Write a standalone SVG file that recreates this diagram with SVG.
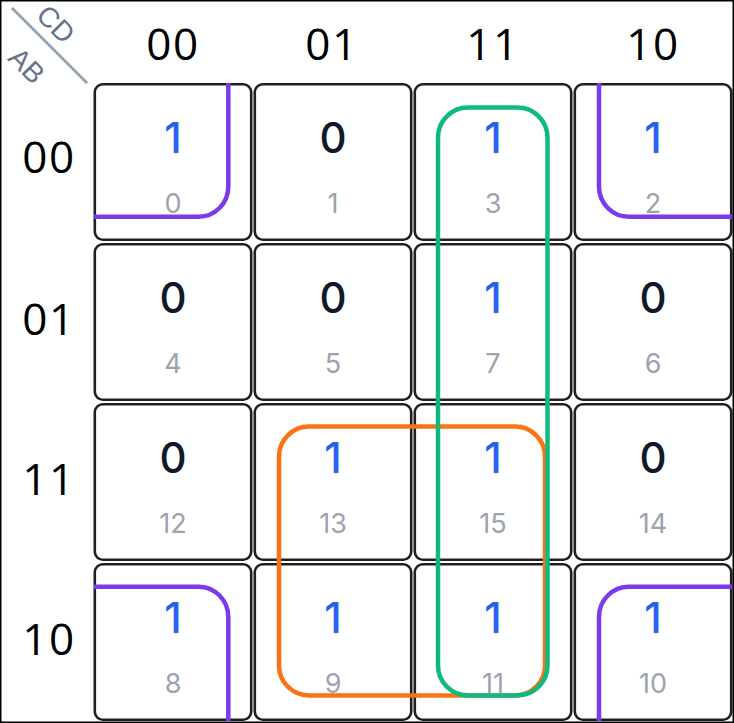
<svg xmlns="http://www.w3.org/2000/svg" width="734" height="723" viewBox="0 0 734 723">
<style>
.cell{fill:#fff;stroke:#231f20;stroke-width:2.6}
.hdr{font-family:"Open Sans","Noto Sans",sans-serif;font-weight:400;font-size:44px;fill:#000;text-anchor:middle;letter-spacing:1.5px}
.v1{font-family:Inter,"Noto Sans",sans-serif;font-weight:500;font-size:42px;fill:#2563eb;text-anchor:middle}
.v0{font-family:Inter,"Noto Sans",sans-serif;font-weight:500;font-size:42px;fill:#111827;text-anchor:middle}
.idx{font-family:Inter,"Noto Sans",sans-serif;font-size:27px;fill:#9ca3af;text-anchor:middle}
.ax{font-family:"Liberation Sans",Arial,sans-serif;font-size:28px;fill:#64748b;text-anchor:middle}
.loop{fill:none;stroke-width:4.5;stroke-linecap:butt}
</style>
<rect x="0" y="0" width="734" height="723" fill="#fff"/>
<g id="corner">
<line x1="12" y1="8" x2="87" y2="83" stroke="#94a3b8" stroke-width="3"/>
<text class="ax" transform="translate(49,31) rotate(45)">CD</text>
<text class="ax" transform="translate(20,72.5) rotate(45)">AB</text>
</g>
<g id="col-headers">
<text class="hdr" x="173" y="60">00</text>
<text class="hdr" x="332" y="60">01</text>
<text class="hdr" x="493" y="60">11</text>
<text class="hdr" x="653" y="60">10</text>
</g>
<g id="row-headers">
<text class="hdr" x="49" y="173">00</text>
<text class="hdr" x="49" y="335">01</text>
<text class="hdr" x="49" y="495">11</text>
<text class="hdr" x="49" y="655">10</text>
</g>
<g id="cell-0"><rect class="cell" x="94.8" y="84.3" width="156.4" height="155.4" rx="8"/><text class="v1" x="173" y="153">1</text><text class="idx" x="173" y="213">0</text></g>
<g id="cell-1"><rect class="cell" x="254.8" y="84.3" width="156.4" height="155.4" rx="8"/><text class="v0" x="333" y="153">0</text><text class="idx" x="333" y="213">1</text></g>
<g id="cell-3"><rect class="cell" x="414.8" y="84.3" width="156.4" height="155.4" rx="8"/><text class="v1" x="493" y="153">1</text><text class="idx" x="493" y="213">3</text></g>
<g id="cell-2"><rect class="cell" x="574.8" y="84.3" width="156.4" height="155.4" rx="8"/><text class="v1" x="653" y="153">1</text><text class="idx" x="653" y="213">2</text></g>
<g id="cell-4"><rect class="cell" x="94.8" y="244.3" width="156.4" height="155.4" rx="8"/><text class="v0" x="173" y="313">0</text><text class="idx" x="173" y="373">4</text></g>
<g id="cell-5"><rect class="cell" x="254.8" y="244.3" width="156.4" height="155.4" rx="8"/><text class="v0" x="333" y="313">0</text><text class="idx" x="333" y="373">5</text></g>
<g id="cell-7"><rect class="cell" x="414.8" y="244.3" width="156.4" height="155.4" rx="8"/><text class="v1" x="493" y="313">1</text><text class="idx" x="493" y="373">7</text></g>
<g id="cell-6"><rect class="cell" x="574.8" y="244.3" width="156.4" height="155.4" rx="8"/><text class="v0" x="653" y="313">0</text><text class="idx" x="653" y="373">6</text></g>
<g id="cell-12"><rect class="cell" x="94.8" y="404.3" width="156.4" height="155.4" rx="8"/><text class="v0" x="173" y="473">0</text><text class="idx" x="173" y="533">12</text></g>
<g id="cell-13"><rect class="cell" x="254.8" y="404.3" width="156.4" height="155.4" rx="8"/><text class="v1" x="333" y="473">1</text><text class="idx" x="333" y="533">13</text></g>
<g id="cell-15"><rect class="cell" x="414.8" y="404.3" width="156.4" height="155.4" rx="8"/><text class="v1" x="493" y="473">1</text><text class="idx" x="493" y="533">15</text></g>
<g id="cell-14"><rect class="cell" x="574.8" y="404.3" width="156.4" height="155.4" rx="8"/><text class="v0" x="653" y="473">0</text><text class="idx" x="653" y="533">14</text></g>
<g id="cell-8"><rect class="cell" x="94.8" y="564.3" width="156.4" height="155.4" rx="8"/><text class="v1" x="173" y="633">1</text><text class="idx" x="173" y="693">8</text></g>
<g id="cell-9"><rect class="cell" x="254.8" y="564.3" width="156.4" height="155.4" rx="8"/><text class="v1" x="333" y="633">1</text><text class="idx" x="333" y="693">9</text></g>
<g id="cell-11"><rect class="cell" x="414.8" y="564.3" width="156.4" height="155.4" rx="8"/><text class="v1" x="493" y="633">1</text><text class="idx" x="493" y="693">11</text></g>
<g id="cell-10"><rect class="cell" x="574.8" y="564.3" width="156.4" height="155.4" rx="8"/><text class="v1" x="653" y="633">1</text><text class="idx" x="653" y="693">10</text></g>
<g id="groups">
<path class="loop" stroke="#7c3aed" d="M228.3 83V186.8A30 30 0 0 1 198.3 216.8H94"/>
<path class="loop" stroke="#7c3aed" d="M599 83V186.8A30 30 0 0 0 629 216.8H733"/>
<path class="loop" stroke="#7c3aed" d="M94 586.7H198.3A30 30 0 0 1 228.3 616.7V721"/>
<path class="loop" stroke="#7c3aed" d="M733 586.7H629A30 30 0 0 0 599 616.7V721"/>
<rect class="loop" stroke="#f97316" x="279" y="426.5" width="266" height="269" rx="30"/>
<rect class="loop" stroke="#10b981" x="438" y="107.5" width="109.5" height="588" rx="30"/>
</g>
<rect x="0.75" y="0.75" width="732.5" height="721.5" fill="none" stroke="#000" stroke-width="1.5"/>
</svg>
